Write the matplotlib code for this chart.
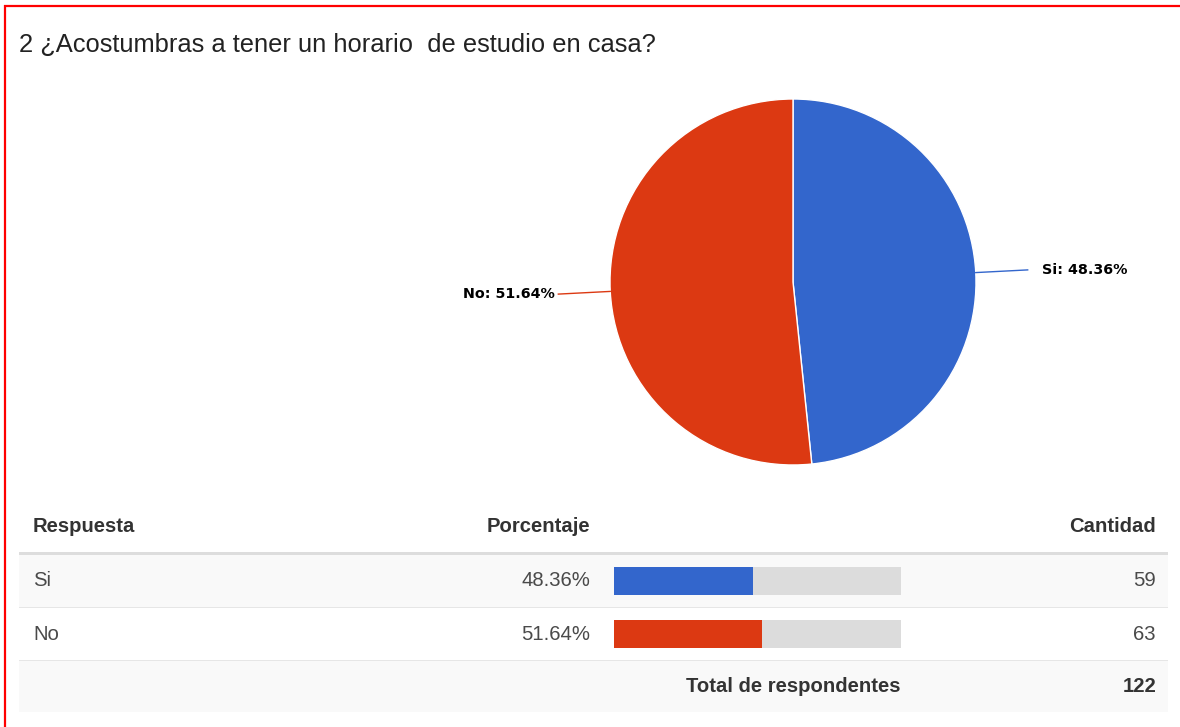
import matplotlib
matplotlib.use("Agg")
import matplotlib.pyplot as plt
from matplotlib.patches import Rectangle
import numpy as np

# ---- data ----
title = "2 ¿Acostumbras a tener un horario  de estudio en casa?"
categories = ["Si", "No"]
pie_labels = ["Si", "No"]
counts = [59, 63]
colors = ["#3366cc", "#dc3912"]
headers = ["Respuesta", "Porcentaje", "Cantidad"]
total_label = "Total de respondentes"

total = sum(counts)
pcts = [c / total * 100 for c in counts]

W, H = 1180, 727
fig = plt.figure(figsize=(W / 100, H / 100), dpi=100)
ax = fig.add_axes([0, 0, 1, 1])
ax.set_xlim(0, W)
ax.set_ylim(0, H)
ax.axis("off")

def Y(py):
    return H - py

FONT = "Liberation Sans"

# border
ax.plot([4.5, 4.5], [Y(5), Y(727)], color="#ff0000", lw=1.6, solid_capstyle="butt")
ax.plot([4, W], [Y(5.5), Y(5.5)], color="#ff0000", lw=1.6, solid_capstyle="butt")

# title
ax.text(19, Y(42), title, fontsize=18.4, family=FONT, color="#222222",
        ha="left", va="center_baseline")

# pie
cx, cy, r = 793, Y(282), 183
wedges, _ = ax.pie(counts, colors=colors, startangle=90, counterclock=False,
                   center=(cx, cy), radius=r, frame=True,
                   wedgeprops=dict(edgecolor="white", linewidth=1))
ax.set_xlim(0, W)
ax.set_ylim(0, H)
ax.axis("off")

for w, lab, pct, col in zip(wedges, pie_labels, pcts, colors):
    ang = np.deg2rad((w.theta1 + w.theta2) / 2)
    x0, y0 = cx + r * np.cos(ang), cy + r * np.sin(ang)
    x1, y1 = cx + (r + 52) * np.cos(ang), cy + (r + 52) * np.sin(ang)
    ax.plot([x0, x1], [y0, y1], color=col, lw=1)
    if np.cos(ang) >= 0:
        ax.text(x1 + 14, y1, f"{lab}: {pct:.2f}%", fontsize=10.3, family="DejaVu Sans",
                weight="bold", color="black", ha="left", va="center")
    else:
        ax.text(x1 - 3, y1, f"{lab}: {pct:.2f}%", fontsize=10.3, family="DejaVu Sans",
                weight="bold", color="black", ha="right", va="center")

# table
TL, TR = 19, 1168
x_resp, x_pct, x_cnt = 33, 590, 1156
bar_l, bar_w = 614, 287
fs = 14.6

ax.text(x_resp, Y(526), headers[0], fontsize=fs, family=FONT, weight="bold",
        color="#333333", ha="left", va="center")
ax.text(x_pct, Y(526), headers[1], fontsize=fs, family=FONT, weight="bold",
        color="#333333", ha="right", va="center")
ax.text(x_cnt, Y(526), headers[2], fontsize=fs, family=FONT, weight="bold",
        color="#333333", ha="right", va="center")
ax.add_patch(Rectangle((TL, Y(555)), TR - TL, 3, color="#dddddd", lw=0))

row_top = [555, 608]
row_h = 52
row_bg = ["#f9f9f9", "#ffffff"]
for i, (cat, pct, cnt, col) in enumerate(zip(categories, pcts, counts, colors)):
    top = row_top[i]
    ax.add_patch(Rectangle((TL, Y(top + row_h)), TR - TL, row_h, color=row_bg[i], lw=0))
    ax.add_patch(Rectangle((TL, Y(top + row_h + 1.5)), TR - TL, 2, color="#e6e6e6", lw=0))
    yc = Y(top + 26)
    ax.text(x_resp, yc, cat, fontsize=fs, family=FONT, color="#4a4a4a",
            ha="left", va="center")
    ax.text(x_pct, yc, f"{pct:.2f}%", fontsize=fs, family=FONT, color="#4a4a4a",
            ha="right", va="center")
    ax.text(x_cnt, yc, f"{cnt}", fontsize=fs, family=FONT, color="#4a4a4a",
            ha="right", va="center")
    ax.barh(yc, bar_w, left=bar_l, height=28, color="#dcdcdc", lw=0)
    ax.barh(yc, pct / 100 * bar_w, left=bar_l, height=28, color=col, lw=0)

ax.add_patch(Rectangle((TL, Y(712)), TR - TL, 51, color="#f9f9f9", lw=0))
ax.text(901, Y(687), total_label, fontsize=fs, family=FONT, weight="bold",
        color="#333333", ha="right", va="center")
ax.text(x_cnt, Y(687), f"{total}", fontsize=fs, family=FONT, weight="bold",
        color="#333333", ha="right", va="center")

fig.savefig("out.png", dpi=100)
